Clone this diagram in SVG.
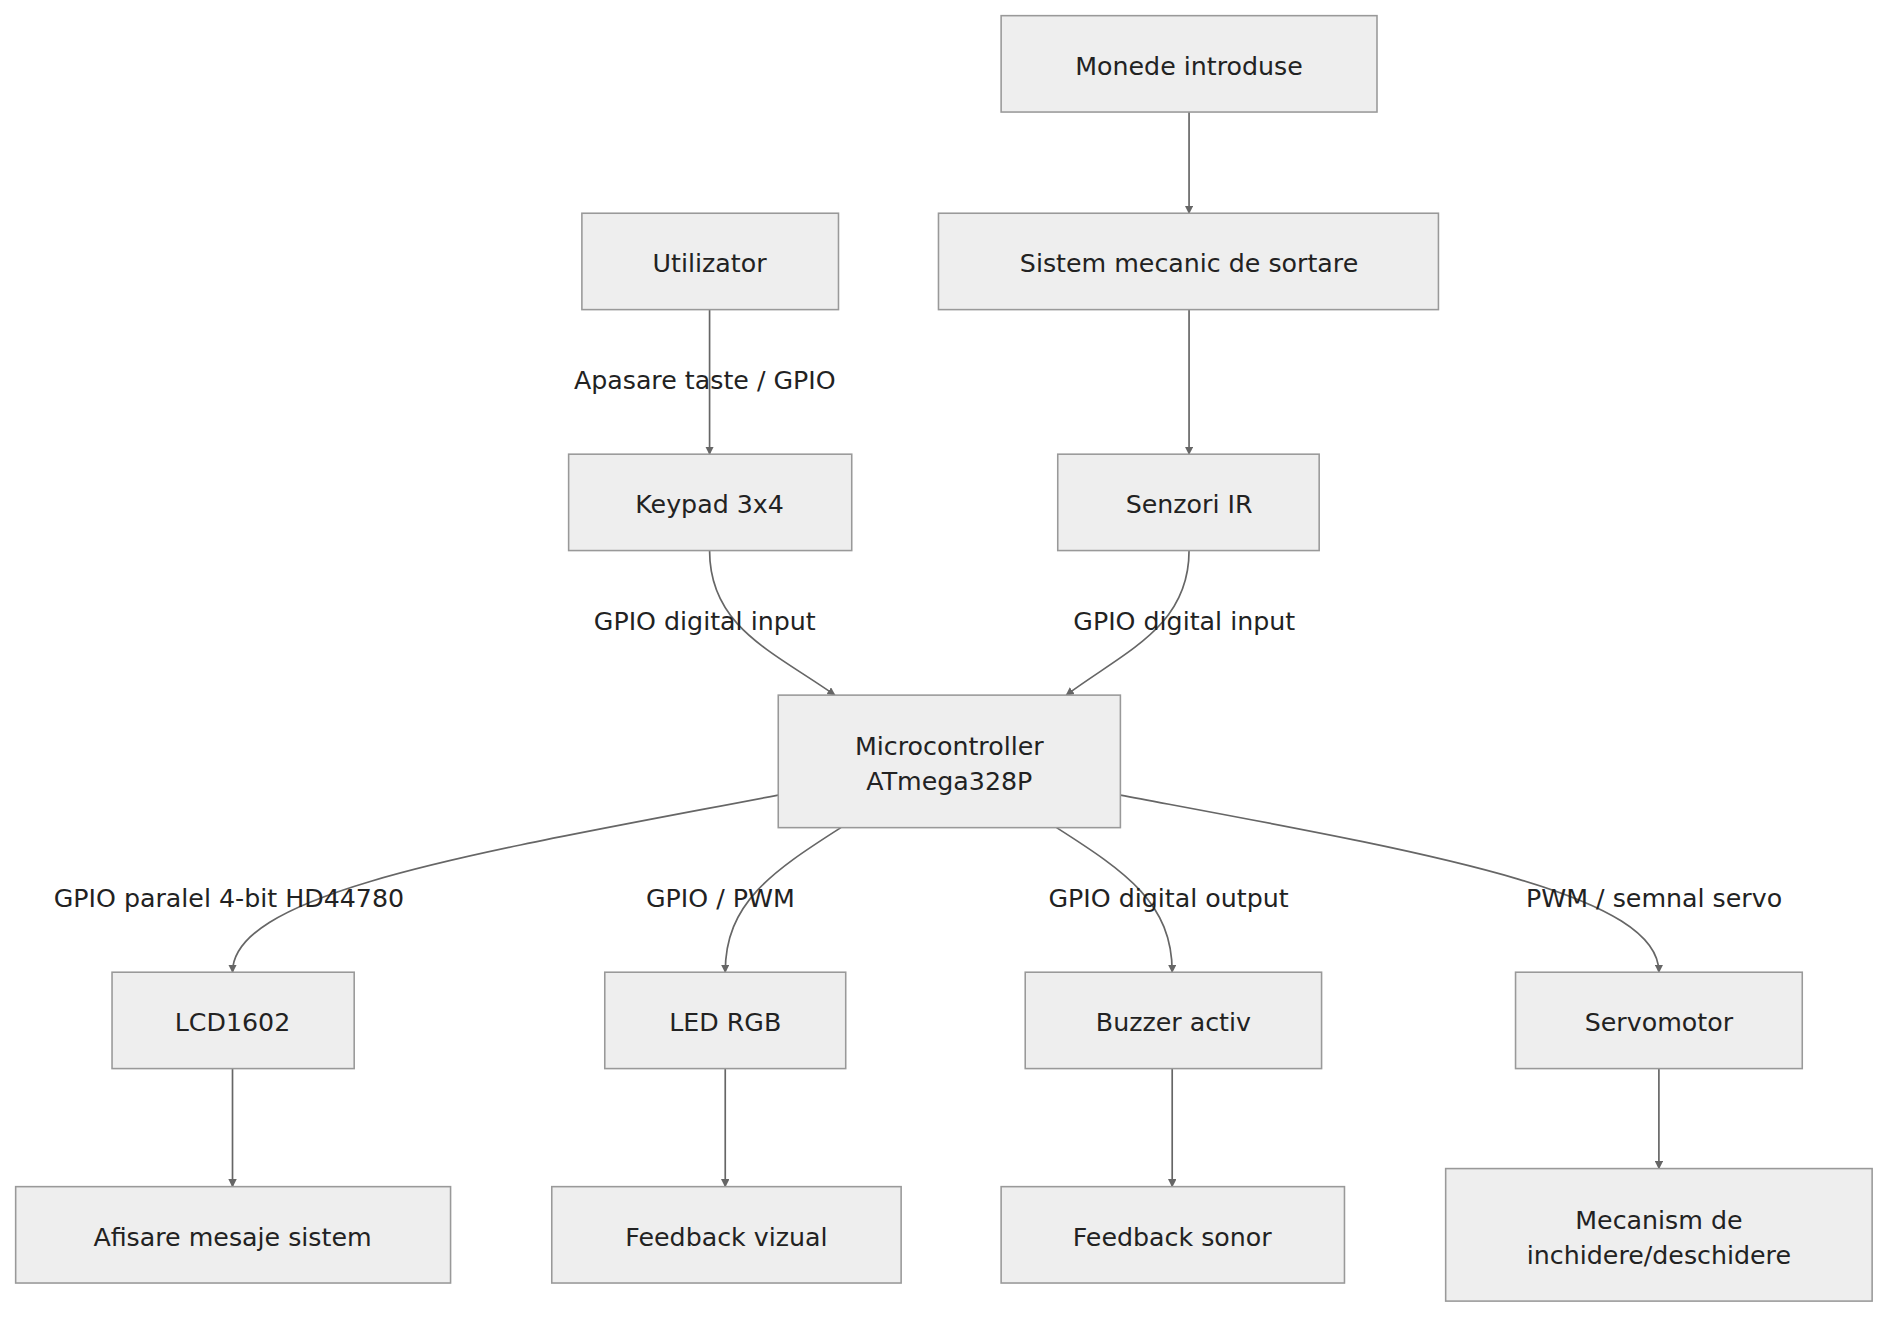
<svg xmlns="http://www.w3.org/2000/svg" width="1889" height="1318" viewBox="0 0 1889 1318">
<style>
.n rect{fill:#eeeeee;stroke:#999999;stroke-width:1.3}
text{font-family:"DejaVu Sans",sans-serif;font-size:21px;fill:#222;text-anchor:middle;dominant-baseline:central}
.e path{fill:none;stroke:#666;stroke-width:1.4;marker-end:url(#a)}
</style>
<defs><marker id="a" viewBox="0 0 10 10" refX="9" refY="5" markerWidth="7" markerHeight="7" orient="auto-start-reverse" markerUnits="userSpaceOnUse"><path d="M0,0L10,5L0,10z" fill="#666"/></marker></defs>
<rect width="1889" height="1318" fill="#fff"/>
<g transform="scale(1.20472)">
<g class="e" id="edges">
<path d="M987,93V177"/>
<path d="M589,257V377"/>
<path d="M987,257V377"/>
<path d="M589,457C589,520 640,540 693,577"/>
<path d="M987,457C987,520 935,540 885,577"/>
<path d="M646,660C400,707 193,740 193,807"/>
<path d="M698,687C640,724 602,750 602,807"/>
<path d="M877,687C935,724 973,750 973,807"/>
<path d="M930,660C1180,707 1377,740 1377,807"/>
<path d="M193,887V985"/>
<path d="M602,887V985"/>
<path d="M973,887V985"/>
<path d="M1377,887V970"/>
</g>
<g id="labels">
<text x="585" y="316">Apasare taste / GPIO</text>
<text x="585" y="516">GPIO digital input</text>
<text x="983" y="516">GPIO digital input</text>
<text x="190" y="746">GPIO paralel 4-bit HD44780</text>
<text x="598" y="746">GPIO / PWM</text>
<text x="970" y="746">GPIO digital output</text>
<text x="1373" y="746">PWM / semnal servo</text>
</g>
<g class="n" id="monede"><rect x="831" y="13" width="312" height="80"/><text x="987" y="55">Monede introduse</text></g>
<g class="n" id="utilizator"><rect x="483" y="177" width="213" height="80"/><text x="589" y="219">Utilizator</text></g>
<g class="n" id="sistem"><rect x="779" y="177" width="415" height="80"/><text x="987" y="219">Sistem mecanic de sortare</text></g>
<g class="n" id="keypad"><rect x="472" y="377" width="235" height="80"/><text x="589" y="419">Keypad 3x4</text></g>
<g class="n" id="senzori"><rect x="878" y="377" width="217" height="80"/><text x="987" y="419">Senzori IR</text></g>
<g class="n" id="micro"><rect x="646" y="577" width="284" height="110"/><text x="788" y="620">Microcontroller</text><text x="788" y="649">ATmega328P</text></g>
<g class="n" id="lcd"><rect x="93" y="807" width="201" height="80"/><text x="193" y="849">LCD1602</text></g>
<g class="n" id="led"><rect x="502" y="807" width="200" height="80"/><text x="602" y="849">LED RGB</text></g>
<g class="n" id="buzzer"><rect x="851" y="807" width="246" height="80"/><text x="974" y="849">Buzzer activ</text></g>
<g class="n" id="servo"><rect x="1258" y="807" width="238" height="80"/><text x="1377" y="849">Servomotor</text></g>
<g class="n" id="afisare"><rect x="13" y="985" width="361" height="80"/><text x="193" y="1027">Afisare mesaje sistem</text></g>
<g class="n" id="fvizual"><rect x="458" y="985" width="290" height="80"/><text x="603" y="1027">Feedback vizual</text></g>
<g class="n" id="fsonor"><rect x="831" y="985" width="285" height="80"/><text x="973" y="1027">Feedback sonor</text></g>
<g class="n" id="mecanism"><rect x="1200" y="970" width="354" height="110"/><text x="1377" y="1013">Mecanism de</text><text x="1377" y="1042">inchidere/deschidere</text></g>
</g>
</svg>
